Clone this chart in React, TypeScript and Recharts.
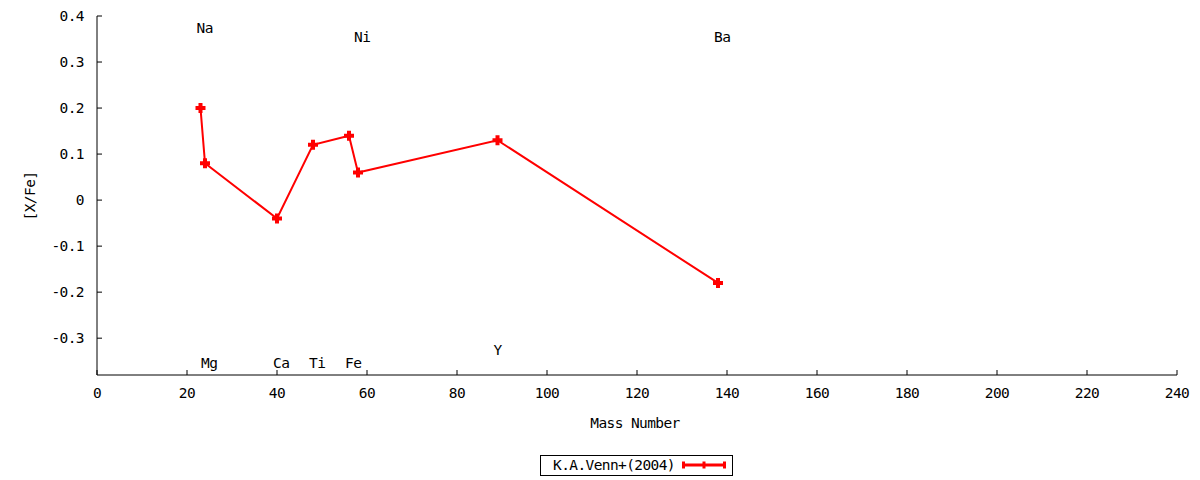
import React from 'react';
import { ComposedChart, Line, Scatter, XAxis, YAxis, Legend, Label } from 'recharts';

const FONT = '"DejaVu Sans Mono", monospace';
const FONT_SIZE = 14.5;
const LETTER_SPACING = -0.6;

// Measured data
const massNumbers = [23, 24, 40, 48, 56, 58, 89, 138];
const xFeValues = [0.2, 0.08, -0.04, 0.12, 0.14, 0.06, 0.13, -0.18];

// Element labels (placed at their mass number)
const elementNames = ['Na', 'Mg', 'Ca', 'Ti', 'Fe', 'Ni', 'Y', 'Ba'];
const labelYValues = [0.375, -0.355, -0.355, -0.355, -0.355, 0.355, -0.325, 0.355];

const xTicks = [0, 20, 40, 60, 80, 100, 120, 140, 160, 180, 200, 220, 240];
const yTicks = [-0.3, -0.2, -0.1, 0, 0.1, 0.2, 0.3, 0.4];
const seriesName = 'K.A.Venn+(2004)';

const lineData = massNumbers.map((m, i) => ({ x: m, y: xFeValues[i] }));
const labelData = massNumbers.map((m, i) => ({ x: m, y: labelYValues[i], label: elementNames[i] }));

const RED = '#ff0000';

const PlusDot = (props: any) => {
  const { cx, cy, index } = props;
  if (cx == null || cy == null) return <g key={`d${index}`} />;
  return (
    <path
      key={`d${index}`}
      d={`M${cx - 5},${cy} H${cx + 5} M${cx},${cy - 5} V${cy + 5}`}
      stroke={RED}
      strokeWidth={4}
      fill="none"
    />
  );
};

const ElementLabel = (props: any) => {
  const { cx, cy, payload } = props;
  return (
    <text
      x={cx - 4}
      y={cy + 5}
      fontFamily={FONT}
      fontSize={FONT_SIZE}
      letterSpacing={LETTER_SPACING}
      fill="#000"
    >
      {payload.label}
    </text>
  );
};

const LegendBox = () => (
  <svg width={193} height={22} style={{ display: 'block' }}>
    <rect x={0.5} y={0.5} width={192} height={20} fill="#fff" stroke="#000" />
    <text
      x={13}
      y={15}
      fontFamily={FONT}
      fontSize={FONT_SIZE}
      letterSpacing={LETTER_SPACING}
      fill="#000"
    >
      {seriesName}
    </text>
    <line x1={142} x2={186} y1={10} y2={10} stroke={RED} strokeWidth={3} />
    <line x1={143.5} x2={143.5} y1={6.5} y2={13.5} stroke={RED} strokeWidth={3} />
    <line x1={164} x2={164} y1={6.5} y2={13.5} stroke={RED} strokeWidth={3} />
    <line x1={184.5} x2={184.5} y1={6.5} y2={13.5} stroke={RED} strokeWidth={3} />
  </svg>
);

const tickStyle = {
  fill: '#000',
  fontSize: FONT_SIZE,
  fontFamily: FONT,
  letterSpacing: LETTER_SPACING,
};
const fmtY = (v: number) => String(v);
const blank = () => '';

export default function App() {
  return (
    <div style={{ position: 'absolute', left: 0, top: 0, width: 1200, height: 480, background: '#fff' }}>
      <ComposedChart
        width={1200}
        height={480}
        margin={{ top: 16, right: 23, bottom: 75, left: 0 }}
      >
        <XAxis
          dataKey="x"
          type="number"
          domain={[0, 240]}
          ticks={xTicks}
          interval={0}
          allowDataOverflow
          height={30}
          stroke="#000"
          tickSize={-5}
          tickMargin={17.5}
          tick={tickStyle}
        >
          <Label
            value="Mass Number"
            position="bottom"
            offset={13}
            dx={-2}
            fill="#000"
            fontFamily={FONT}
            fontSize={FONT_SIZE}
            letterSpacing={LETTER_SPACING}
          />
        </XAxis>
        <XAxis
          xAxisId="top"
          orientation="top"
          dataKey="x"
          type="number"
          domain={[0, 240]}
          ticks={xTicks}
          interval={0}
          allowDataOverflow
          height={0}
          stroke="#000"
          tickSize={-5}
          tickFormatter={blank}
        />
        <YAxis
          type="number"
          domain={[-0.38, 0.4]}
          ticks={yTicks}
          interval={0}
          allowDataOverflow
          width={97}
          stroke="#000"
          tickSize={-5}
          tickMargin={18}
          tick={tickStyle}
          tickFormatter={fmtY}
        >
          <Label
            content={(p: any) => {
              const vb = p.viewBox || { x: 0, y: 16, width: 97, height: 359 };
              const cx = vb.x + 35;
              const cy = vb.y + vb.height / 2 + 0.5;
              return (
                <text
                  x={cx}
                  y={cy}
                  transform={`rotate(-90, ${cx}, ${cy})`}
                  textAnchor="middle"
                  fontFamily={FONT}
                  fontSize={FONT_SIZE}
                  letterSpacing={LETTER_SPACING}
                  fill="#000"
                >
                  [X/Fe]
                </text>
              );
            }}
          />
        </YAxis>
        <YAxis
          yAxisId="right"
          orientation="right"
          type="number"
          domain={[-0.38, 0.4]}
          ticks={yTicks}
          interval={0}
          allowDataOverflow
          width={0}
          stroke="#000"
          tickSize={-5}
          tickFormatter={blank}
        />
        <Line
          data={lineData}
          dataKey="y"
          name={seriesName}
          stroke={RED}
          strokeWidth={2}
          dot={PlusDot}
          activeDot={false}
          isAnimationActive={false}
        />
        <Scatter
          data={labelData}
          dataKey="y"
          legendType="none"
          shape={ElementLabel}
          isAnimationActive={false}
        />
        <Legend
          layout="vertical"
          align="center"
          verticalAlign="middle"
          content={LegendBox}
          wrapperStyle={{ position: 'absolute', left: 540, top: 455, width: 193, height: 22 }}
        />
      </ComposedChart>
    </div>
  );
}
